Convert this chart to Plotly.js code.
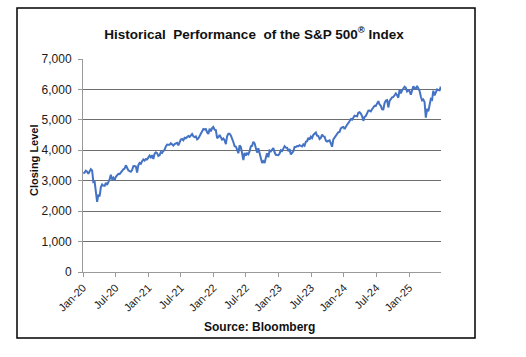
<!DOCTYPE html>
<html>
<head>
<meta charset="utf-8">
<script src="https://cdn.plot.ly/plotly-3.0.1.min.js"></script>
<style>
html,body{margin:0;padding:0;background:#fff;}
#chart{width:526px;height:357px;}
</style>
</head>
<body>
<div id="chart"></div>
<script>
// Weekly (Friday) closing levels of the S&P 500
const firstWeek = '2020-01-03';
const closes2020 = [3235,3265,3330,3295,3226,3328,3380,3338,2954,2972,2711,2305,2541,2489,2790,2875,2837,2831,2930,2864,2955,3044,3194,3041,3098,3009,3130,3185,3225,3216,3271,3351,3373,3397,3508,3427,3341,3319,3298,3348,3477,3484,3465,3270,3510,3585,3558,3638,3699,3663,3709,3703];
const closes2021 = [3756,3825,3768,3841,3714,3887,3934,3907,3811,3842,3943,3913,3975,4020,4129,4185,4180,4181,4233,4174,4156,4204,4230,4247,4166,4281,4352,4370,4327,4412,4395,4437,4468,4442,4509,4535,4459,4433,4455,4357,4391,4471,4545,4605,4698,4683,4698,4595,4538,4712,4620,4726,4766];
const closes2022 = [4677,4663,4398,4432,4501,4419,4349,4385,4329,4204,4463,4543,4546,4488,4393,4272,4132,4123,4024,3901,4158,4109,3901,3675,3912,3825,3899,3863,3962,4130,4145,4280,4228,4058,3924,4067,3873,3693,3586,3640,3583,3752,3901,3771,3993,3965,4026,4072,3934,3852,3845,3840];
const closes2023 = [3895,3999,3973,4071,4136,4090,4079,3970,4045,3862,3917,3971,4109,4105,4138,4133,4169,4136,4124,4192,4151,4282,4299,4410,4348,4450,4399,4505,4536,4582,4478,4464,4370,4406,4516,4457,4450,4320,4288,4309,4328,4224,4117,4358,4415,4514,4559,4595,4604,4719,4755,4770];
const closes2024 = [4697,4784,4840,4891,4959,5027,5006,5089,5137,5124,5117,5234,5254,5204,5123,4967,5100,5128,5223,5303,5305,5278,5347,5432,5465,5460,5567,5615,5505,5459,5346,5344,5554,5635,5648,5408,5626,5703,5738,5751,5815,5865,5808,5729,5996,5870,5969,6032,6090,6051,5931,5971];
const closes2025 = [5942,5827,5997,6101,6041,6026,6115,6013,5955,5770,5639,5668,5581,5074,5363,5283,5525,5687,5660,5958,5803,5912,6000,5977,5968,6092];

const yTickVals = [0,1000,2000,3000,4000,5000,6000,7000];
const xRange = ['2020-01-01','2025-06-28'];
const titleText = 'Historical&nbsp; Performance&nbsp; of the S&amp;P 500<sup>®</sup> Index';
const yTitleText = 'Closing Level';
const sourceText = 'Source: Bloomberg';

const closes = [].concat(closes2020, closes2021, closes2022, closes2023, closes2024, closes2025);
const dates = [];
{
  const d0 = new Date(firstWeek + 'T00:00:00Z');
  for (let i = 0; i < closes.length; i++) {
    const d = new Date(d0.getTime() + i * 7 * 86400000);
    dates.push(d.toISOString().slice(0, 10));
  }
}

const font = 'Liberation Sans, Arial, sans-serif';

const trace = {
  type: 'scatter',
  mode: 'lines',
  x: dates,
  y: closes,
  line: {color: '#4472C4', width: 2},
  hoverinfo: 'skip'
};

const layout = {
  width: 526,
  height: 357,
  margin: {l: 83, r: 85, t: 59, b: 85},
  paper_bgcolor: '#ffffff',
  plot_bgcolor: '#ffffff',
  showlegend: false,
  font: {family: font, color: '#1a1a1a'},
  title: {
    text: titleText,
    font: {family: font, size: 13.5, color: '#111', weight: 'bold'},
    x: 254/526, xanchor: 'center',
    y: 1 - 34/357, yanchor: 'middle'
  },
  xaxis: {
    type: 'date',
    range: xRange,
    tick0: '2020-01-01',
    dtick: 'M6',
    tickformat: '%b-%y',
    tickangle: -45,
    ticks: 'outside',
    ticklen: 4,
    tickcolor: '#9a9a9a',
    showline: true,
    linecolor: '#9a9a9a',
    linewidth: 1,
    showgrid: false,
    zeroline: false,
    tickfont: {family: font, size: 11, color: '#1a1a1a'}
  },
  yaxis: {
    range: [0, 7000],
    tickvals: yTickVals,
    tickformat: ',d',
    ticks: 'outside',
    ticklen: 4,
    tickcolor: '#9a9a9a',
    ticklabelstandoff: 4,
    showline: true,
    linecolor: '#9a9a9a',
    linewidth: 1,
    showgrid: true,
    gridcolor: '#6e6e6e',
    gridwidth: 1,
    zeroline: false,
    tickfont: {family: font, size: 12, color: '#1a1a1a'}
  },
  annotations: [
    {
      text: '<b>' + yTitleText + '</b>',
      xref: 'paper', yref: 'paper',
      x: (34 - 83) / 358, y: (272 - 160) / 213,
      xanchor: 'center', yanchor: 'middle',
      textangle: -90, showarrow: false,
      font: {family: font, size: 11, color: '#111'}
    },
    {
      text: '<b>' + sourceText + '</b>',
      xref: 'paper', yref: 'paper',
      x: (259 - 83) / 358, y: (272 - 327) / 213,
      xanchor: 'center', yanchor: 'middle',
      showarrow: false,
      font: {family: font, size: 12, color: '#111'}
    }
  ],
  shapes: [
    {
      type: 'rect', xref: 'paper', yref: 'paper',
      x0: (17 - 83) / 358, x1: (475 - 83) / 358,
      y0: (272 - 338) / 213, y1: (272 - 8) / 213,
      line: {color: '#000', width: 1.5},
      fillcolor: 'rgba(0,0,0,0)',
      layer: 'above'
    }
  ]
};

Plotly.newPlot('chart', [trace], layout, {staticPlot: true, displayModeBar: false});
</script>
</body>
</html>
